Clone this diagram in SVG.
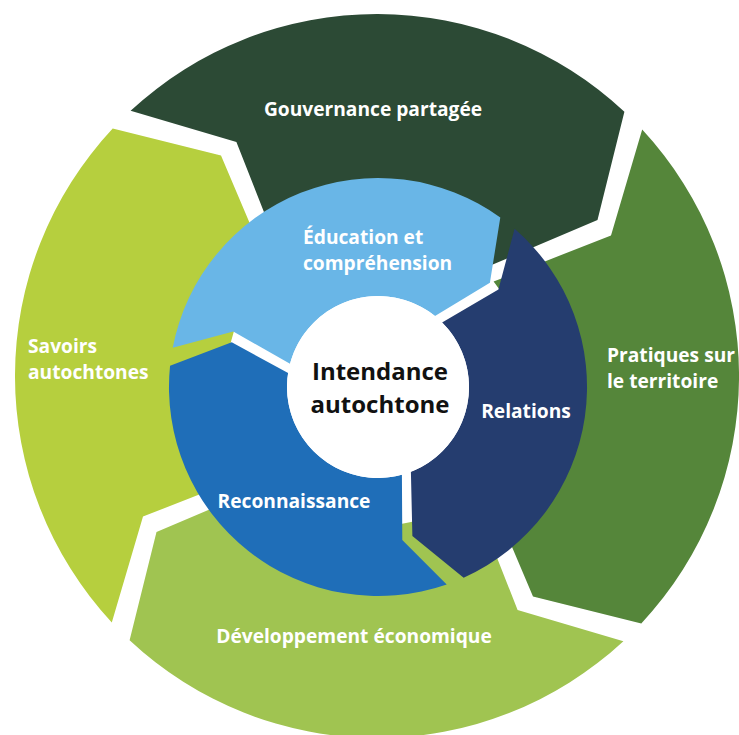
<svg xmlns="http://www.w3.org/2000/svg" width="739" height="735" viewBox="0 0 739 735">
<defs>
<style>
.lbl{font-family:"Open Sans","Noto Sans","Liberation Sans",sans-serif;font-weight:700;font-size:19.2px;fill:#ffffff}
.ctr{font-family:"Open Sans","Noto Sans","Liberation Sans",sans-serif;font-weight:700;font-size:24px;fill:#111111}
</style>
<path id="outerSeg" d="M130.6,110.8 A362,362 0 0 1 624.4,111.7 L597.5,220 L482.1,269 A150,150 0 0 0 282.6,259.4 L236.4,142 Z"/>
<path id="innerSeg" d="M172.7,347.8 A209,209 0 0 1 500.3,217.5 L489.9,282.7 L435,316.1 A91,91 0 0 0 290,363.8 L233.3,331.5 Z"/>
</defs>
<rect width="739" height="735" fill="#ffffff"/>
<g id="gouvernance">
<use href="#outerSeg" fill="#2c4a35"/>
<text class="lbl" x="373" y="116" text-anchor="middle">Gouvernance partagée</text>
</g>
<g id="pratiques">
<use href="#outerSeg" fill="#55863a" transform="rotate(90 377 376)"/>
<text class="lbl" x="607" y="361.5">Pratiques sur</text>
<text class="lbl" x="607" y="388">le territoire</text>
</g>
<g id="developpement">
<use href="#outerSeg" fill="#a0c451" transform="rotate(180 377 376)"/>
<text class="lbl" x="354" y="643" text-anchor="middle">Développement économique</text>
</g>
<g id="savoirs">
<use href="#outerSeg" fill="#b6cf3e" transform="rotate(270 377 376)"/>
<text class="lbl" x="28" y="352.5">Savoirs</text>
<text class="lbl" x="28" y="379">autochtones</text>
</g>
<g id="education">
<use href="#innerSeg" fill="#69b6e7"/>
<text class="lbl" x="303" y="243.5">Éducation et</text>
<text class="lbl" x="303" y="270">compréhension</text>
</g>
<g id="relations">
<use href="#innerSeg" fill="#253d6f" transform="rotate(120 378 387)"/>
<text class="lbl" x="526" y="418" text-anchor="middle">Relations</text>
</g>
<g id="reconnaissance">
<use href="#innerSeg" fill="#1f6eb8" transform="rotate(240 378 387)"/>
<text class="lbl" x="294" y="508" text-anchor="middle">Reconnaissance</text>
</g>
<g id="intendance">
<circle cx="378" cy="387" r="91" fill="#ffffff"/>
<text class="ctr" x="380" y="380" text-anchor="middle">Intendance</text>
<text class="ctr" x="380" y="413" text-anchor="middle">autochtone</text>
</g>
</svg>
